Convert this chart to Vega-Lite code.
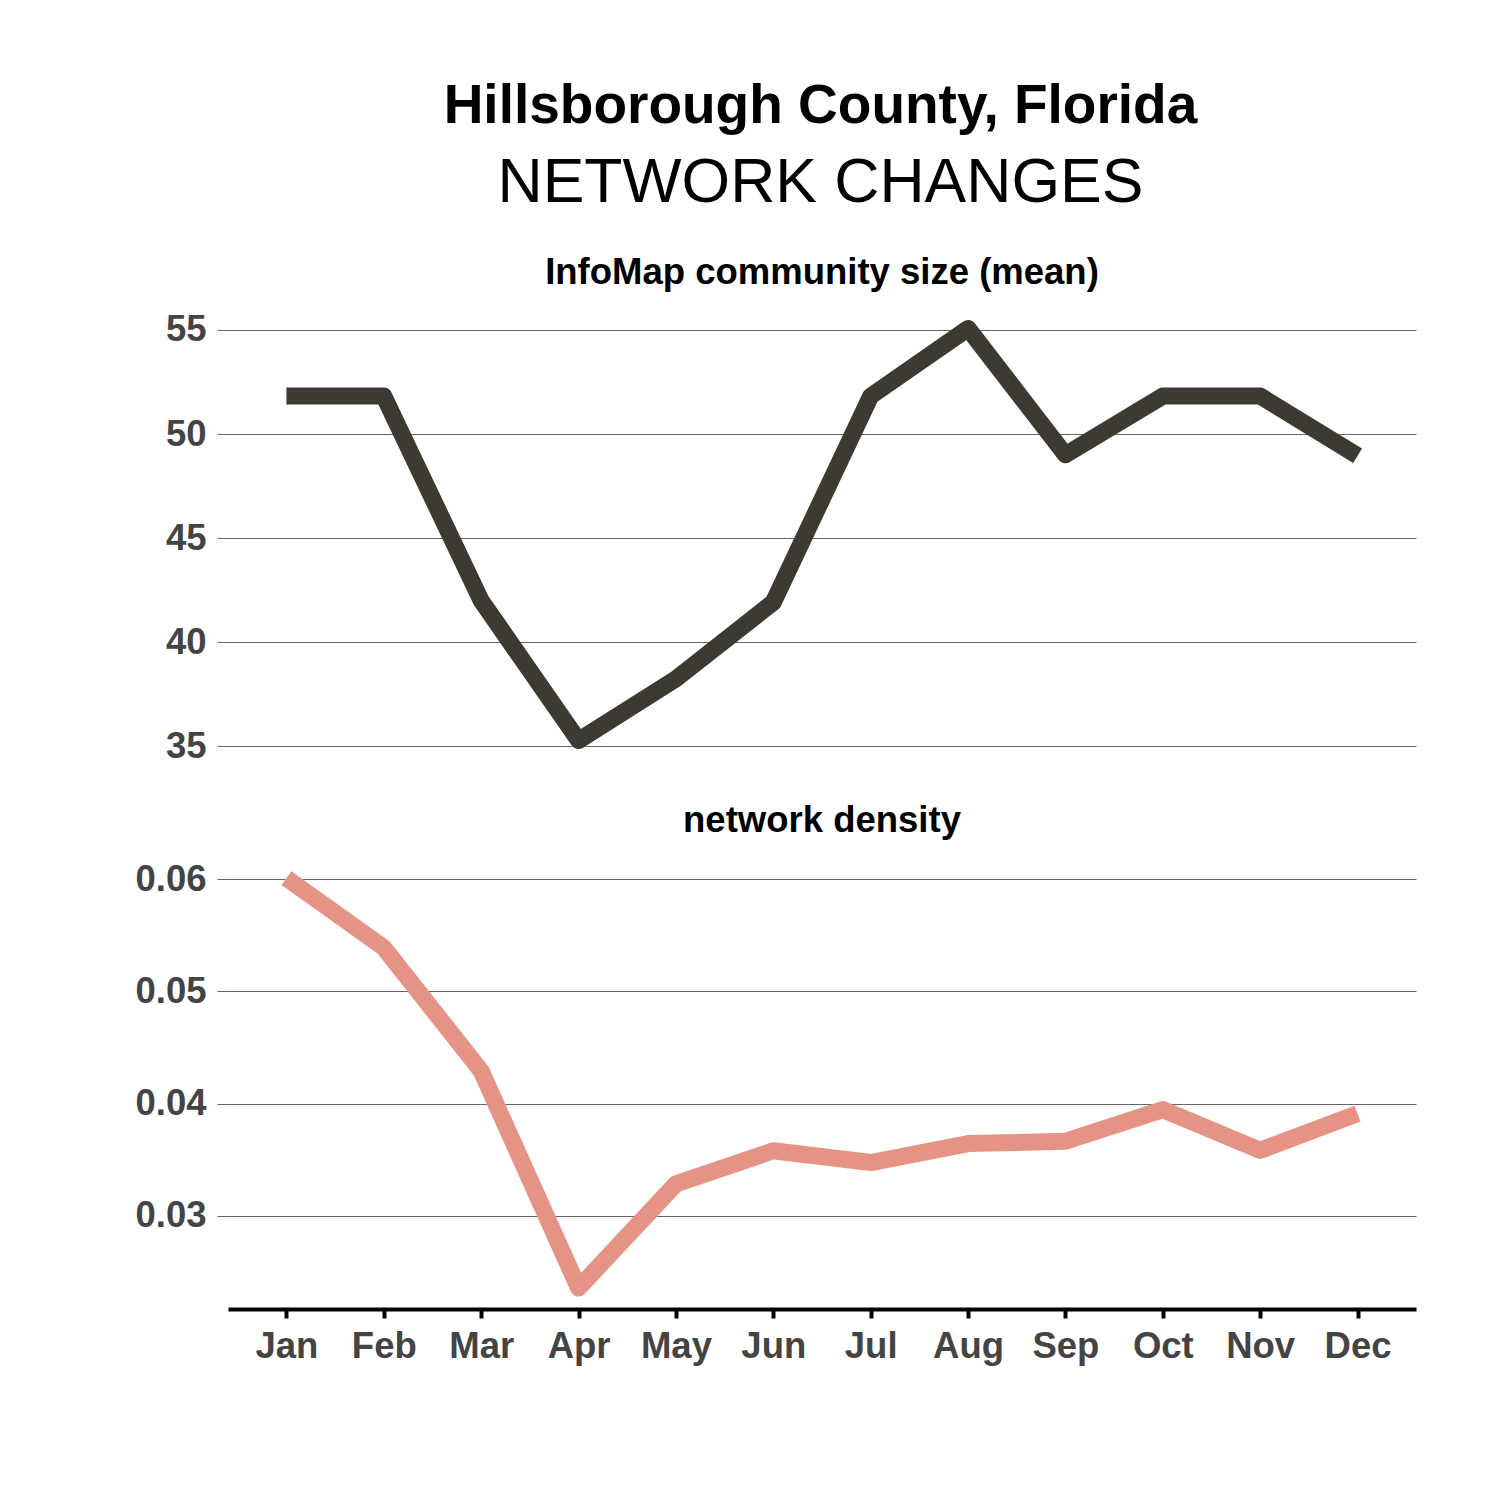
{
  "$schema": "https://vega.github.io/schema/vega-lite/v6.json",
  "background": "white",
  "padding": {"left": 134, "top": 79, "right": 20, "bottom": 20},
  "title": {
    "text": "Hillsborough County, Florida",
    "subtitle": "NETWORK CHANGES",
    "font": "Liberation Sans",
    "fontSize": 55,
    "fontWeight": "bold",
    "color": "black",
    "subtitleFont": "Liberation Sans",
    "subtitleFontSize": 62.5,
    "subtitleFontWeight": "normal",
    "subtitleColor": "black",
    "subtitlePadding": 18,
    "anchor": "middle",
    "dx": 45,
    "offset": 39
  },
  "data": {
    "values": [
      {"month": "Jan", "community": 51.82, "density": 0.0601},
      {"month": "Feb", "community": 51.82, "density": 0.0539},
      {"month": "Mar", "community": 42.0, "density": 0.0429},
      {"month": "Apr", "community": 35.28, "density": 0.02357},
      {"month": "May", "community": 38.24, "density": 0.03285},
      {"month": "Jun", "community": 41.92, "density": 0.0358},
      {"month": "Jul", "community": 51.82, "density": 0.03475},
      {"month": "Aug", "community": 55.07, "density": 0.03644},
      {"month": "Sep", "community": 49.0, "density": 0.03665},
      {"month": "Oct", "community": 51.82, "density": 0.03947},
      {"month": "Nov", "community": 51.82, "density": 0.03584},
      {"month": "Dec", "community": 48.96, "density": 0.03911}
    ]
  },
  "spacing": 37,
  "vconcat": [
    {
      "width": 1188,
      "height": 456,
      "title": {"text": "InfoMap community size (mean)", "offset": 16},
      "mark": {"type": "line", "color": "#3d3a31", "strokeWidth": 17, "strokeCap": "butt", "strokeJoin": "round"},
      "encoding": {
        "x": {
          "field": "month",
          "type": "ordinal",
          "sort": ["Jan","Feb","Mar","Apr","May","Jun","Jul","Aug","Sep","Oct","Nov","Dec"],
          "scale": {"type": "point", "padding": 0.6},
          "axis": null
        },
        "y": {
          "field": "community",
          "type": "quantitative",
          "scale": {"domain": [34.2, 56.1], "nice": false, "zero": false},
          "axis": {"values": [35, 40, 45, 50, 55], "title": null}
        }
      }
    },
    {
      "width": 1188,
      "height": 450,
      "title": {"text": "network density", "offset": 20},
      "mark": {"type": "line", "color": "#e59385", "strokeWidth": 17, "strokeCap": "butt", "strokeJoin": "round"},
      "encoding": {
        "x": {
          "field": "month",
          "type": "ordinal",
          "sort": ["Jan","Feb","Mar","Apr","May","Jun","Jul","Aug","Sep","Oct","Nov","Dec"],
          "scale": {"type": "point", "padding": 0.6},
          "axis": {
            "title": null,
            "labelAngle": 0,
            "grid": false,
            "domain": true,
            "domainColor": "black",
            "domainWidth": 4,
            "ticks": true,
            "tickColor": "black",
            "tickWidth": 4,
            "tickSize": 9,
            "labelPadding": 10,
            "labelFontSize": 36.5
          }
        },
        "y": {
          "field": "density",
          "type": "quantitative",
          "scale": {"domain": [0.0217, 0.0618], "nice": false, "zero": false},
          "axis": {"values": [0.03, 0.04, 0.05, 0.06], "format": ".2f", "title": null}
        }
      }
    }
  ],
  "config": {
    "view": {"stroke": null},
    "title": {
      "font": "Liberation Sans",
      "fontSize": 36.5,
      "fontWeight": "bold",
      "color": "black",
      "anchor": "middle"
    },
    "axis": {
      "labelFont": "Liberation Sans",
      "labelFontWeight": "bold",
      "labelColor": "#444444",
      "labelFontSize": 36.5
    },
    "axisY": {
      "grid": true,
      "gridColor": "#666666",
      "gridWidth": 1,
      "domain": false,
      "ticks": true,
      "tickColor": "#666666",
      "tickWidth": 1,
      "tickSize": 11,
      "labelPadding": 11,
      "labelFontSize": 36.5
    }
  }
}
